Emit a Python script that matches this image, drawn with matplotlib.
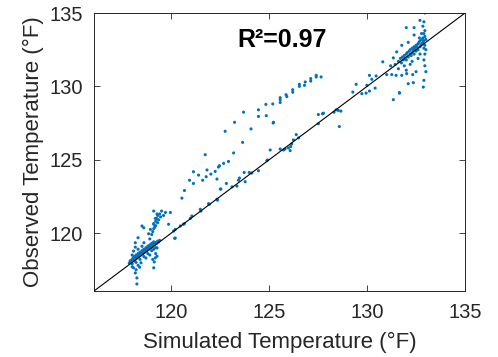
import matplotlib
matplotlib.use("Agg")
import matplotlib.pyplot as plt
import numpy as np

plt.rcParams['font.family'] = ['Liberation Sans', 'DejaVu Sans']

# Lower-left dense cluster (simulated, observed)
cluster_low = [
    (117.85,117.95),(117.9,118.1),(117.95,118.0),(118.0,118.2),(118.0,117.9),(118.05,118.3),(118.1,118.1),
    (118.1,118.4),(118.15,118.2),(118.2,118.35),(118.2,118.5),(118.25,118.3),(118.3,118.45),(118.3,118.6),
    (118.35,118.4),(118.4,118.55),(118.4,118.7),(118.45,118.5),(118.5,118.65),(118.5,118.8),(118.55,118.6),
    (118.6,118.75),(118.6,118.9),(118.65,118.7),(118.7,118.85),(118.7,119.0),(118.75,118.8),(118.8,118.95),
    (118.8,119.1),(118.85,118.9),(118.9,119.05),(118.9,119.2),(118.95,119.0),(119.0,119.15),(119.0,119.3),
    (119.05,119.1),(119.1,119.25),(119.1,119.4),(119.15,119.2),(119.2,119.35),(119.25,119.3),(119.3,119.45),
    (119.35,119.4),(119.4,119.5),(118.0,118.5),(118.2,118.0),(118.4,118.2),(118.6,118.4),(118.8,118.6),
    (119.0,118.8),(118.3,118.9),(118.5,119.1),(118.7,118.3),(118.9,118.5),(119.1,118.9),(119.2,119.0),
    (118.9,119.6),(119.0,119.9),(119.05,120.1),(119.1,120.3),(119.1,120.6),(119.15,120.4),(119.2,120.8),
    (119.2,120.5),(119.25,121.0),(119.3,120.7),(119.3,121.2),(119.35,120.9),(119.4,121.3),(119.45,121.1),
    (119.5,121.5),(119.6,121.2),(119.7,121.4),(119.95,121.4),(118.84,119.95),(118.93,120.25),(118.59,120.36),
    (119.27,121.3),(119.18,121.0),(119.1,120.64),(118.3,119.68),(118.16,119.34),(118.16,119.04),(118.07,118.77),
    (118.6,119.34),(118.07,117.63),(118.16,117.28),(118.24,116.94),(118.24,116.53),(118.38,117.67),
    (118.45,117.97),(119.18,118.31),(119.13,118.03),(119.27,118.42),(119.27,118.99),(119.1,117.63),
    (117.91,118.1),(118.2,117.5),(118.3,117.8),(119.2,118.6),(119.05,118.2),(118.0,117.7),
    (118.5,120.48),(119.1,121.5),
]

# Points along the 1:1 diagonal
diag_band = [
    (120.12,120.14),(120.2,119.66),(120.62,120.6),(119.86,120.6),(120.2,120.25),(120.46,120.48),
    (120.67,120.64),(120.17,119.64),(120.97,121.0),(121.05,121.16),(121.48,121.62),(121.51,121.5),
    (121.9,122.0),(121.95,121.97),(122.33,122.3),(122.36,122.24),(122.5,123.0),(122.53,123.0),
    (122.81,123.38),(123.1,123.15),(123.35,123.2),(123.43,123.6),(123.48,123.75),(123.72,124.13),
    (123.77,123.5),(123.98,124.13),(124.11,124.09),(124.45,124.25),(124.88,124.93),(124.91,124.98),
    (125.05,125.66),(125.56,125.73),(125.73,125.66),(125.81,125.73),(125.98,125.8),(126.07,125.62),
    (126.1,125.9),(126.15,126.08),(126.24,126.35),(126.38,126.71),(126.5,126.49),(127.51,128.08),
    (127.51,127.45),(127.77,128.17),(127.72,128.13),(128.31,128.24),(128.42,128.4),(128.53,128.36),
    (128.66,128.31),(128.58,127.26),(129.27,129.61),(129.44,130.14),(129.73,129.5),(129.95,129.54),
    (130.12,129.68),(130.12,130.75),
]

# Upper band (observed above simulated)
upper_band = [
    (120.54,122.38),(120.67,122.9),(120.93,123.6),(121.13,123.38),(121.13,124.18),(121.39,123.95),
    (121.6,123.6),(121.73,125.34),(121.78,123.84),(121.82,124.3),(122.02,124.02),(122.24,124.2),
    (122.41,124.5),(122.46,124.59),(122.67,124.75),(122.92,124.88),(122.33,123.68),(123.18,125.46),
    (123.64,126.18),(122.75,126.94),(123.23,127.55),(123.69,128.24),(124.07,127.1),(124.45,128.4),
    (124.45,127.95),(124.85,128.0),(124.83,128.77),(125.18,128.8),(125.2,127.5),(125.56,128.9),
    (125.22,127.55),(125.56,129.09),(125.56,129.23),(125.86,129.43),(125.9,129.3),(126.2,129.6),
    (126.2,129.77),(126.54,130.0),(126.54,130.14),(126.8,130.07),(126.84,130.3),(127.12,130.36),
    (127.12,130.53),(127.4,130.64),(127.4,130.75),(127.65,130.64),
]

# Upper-right dense cluster
cluster_high = [
    (131.6,131.7),(131.7,131.9),(131.75,131.6),(131.8,132.0),(131.85,131.8),(131.9,132.1),(131.95,131.9),
    (132.0,132.2),(132.0,131.8),(132.05,132.3),(132.1,132.0),(132.15,132.4),(132.2,132.2),(132.2,132.5),
    (132.25,132.1),(132.3,132.6),(132.3,132.3),(132.35,132.5),(132.4,132.7),(132.4,132.2),(132.45,132.6),
    (132.5,132.8),(132.5,132.4),(132.55,132.7),(132.6,132.9),(132.6,132.5),(132.65,133.0),(132.7,132.7),
    (132.7,133.1),(132.75,132.8),(132.8,133.2),(132.8,132.9),(132.85,133.0),(132.85,133.3),(132.9,133.1),
    (132.9,132.6),(132.95,133.4),(132.95,132.8),(133.0,133.2),(133.0,132.5),(132.9,133.6),(132.95,133.8),
    (132.85,134.1),(132.9,134.4),(132.95,135.0),(132.7,134.5),(132.4,134.0),(132.0,134.0),(131.77,132.8),
    (132.1,133.0),(132.4,133.5),(132.67,133.3),(132.78,133.6),(131.51,132.35),(131.34,131.94),(131.2,131.4),
    (131.43,131.49),(130.8,131.67),(131.0,130.8),(131.26,130.8),(131.48,130.75),(131.77,130.75),
    (132.02,130.87),(132.33,130.8),(132.9,130.41),(132.1,130.18),(132.36,130.25),(132.87,129.95),
    (131.65,129.57),(130.46,130.71),(130.24,130.48),(129.99,130.07),(130.41,129.88),(131.34,129.09),
    (131.65,129.54),(132.95,132.2),(132.9,131.8),(132.95,131.4),(132.6,131.9),(132.3,131.7),(131.6,131.2),
    (131.9,131.4),(132.2,131.5),(132.7,132.2),(133.0,131.0),(132.5,131.0),(132.0,131.1),
]

x_ticks = [120, 125, 130, 135]
y_ticks = [120, 125, 130, 135]
axis_min, axis_max = 116.05, 135
r2_label = "R\u00b2=0.97"

pts = np.array(cluster_low + diag_band + upper_band + cluster_high)
sim = pts[:, 0]
obs = pts[:, 1]

fig = plt.figure(figsize=(4.98, 3.57), dpi=100)
ax = fig.add_axes([94/498, 1-291/357, (465-94)/498, (291-13)/357])
ax.scatter(sim, obs, s=5, color='#0072BD', edgecolors='none', zorder=2)
ax.plot([axis_min, axis_max], [axis_min, axis_max], color='black', lw=0.8, zorder=3)
ax.set_xlim(axis_min, axis_max)
ax.set_ylim(axis_min, axis_max)
ax.set_xticks(x_ticks)
ax.set_yticks(y_ticks)
ax.tick_params(direction='in', top=True, right=True, length=4, width=0.6,
               labelsize=14.5, colors='#262626', labelcolor='#262626')
ax.tick_params(axis='x', pad=9)
ax.tick_params(axis='y', pad=8)
for sp in ax.spines.values():
    sp.set_linewidth(0.7)
    sp.set_color('#262626')
ax.set_xlabel("Simulated Temperature (°F)", fontsize=16, color='#262626', labelpad=7)
ax.set_ylabel("Observed Temperature (°F)", fontsize=16, color='#262626', labelpad=4)
ax.text(125.65, 133.15, r2_label, fontsize=18, fontweight='bold', ha='center', va='center')

fig.savefig("out.png", dpi=100)
